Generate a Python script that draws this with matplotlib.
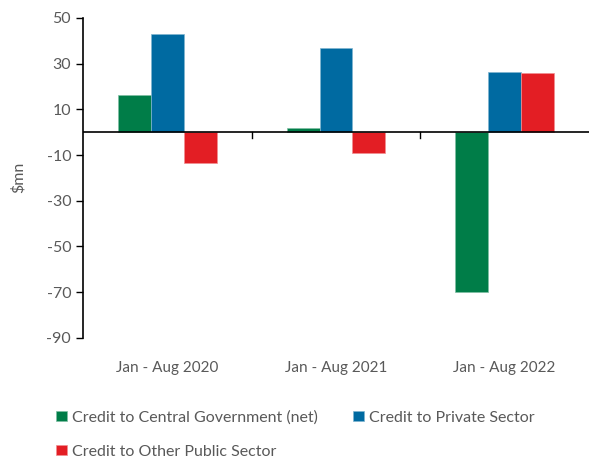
import matplotlib.pyplot as plt
import numpy as np

periods = ["Jan - Aug 2020", "Jan - Aug 2021", "Jan - Aug 2022"]
central_gov = [16.2, 2.0, -70.0]
private_sector = [42.9, 36.8, 26.5]
other_public = [-13.6, -9.3, 25.7]

plt.rcParams['font.family'] = ['Lato', 'DejaVu Sans']
plt.rcParams['axes.unicode_minus'] = False
grey = '#595959'

fig = plt.figure(figsize=(5.89, 4.59), dpi=100)
ax = fig.add_axes([0.141, 0.264, 0.859, 0.697])

x = np.arange(len(periods))
w = 0.195
b1 = ax.bar(x - w, central_gov, w, color='#007D48', edgecolor='#7fbfa3', linewidth=0.5,
            label='Credit to Central Government (net)')
b2 = ax.bar(x, private_sector, w, color='#006AA1', edgecolor='#7fb5d0', linewidth=0.5,
            label='Credit to Private Sector')
b3 = ax.bar(x + w, other_public, w, color='#E31E24', edgecolor='#f18f91', linewidth=0.5,
            label='Credit to Other Public Sector')

ax.set_xlim(-0.5, 2.5)
ax.set_ylim(-90, 50)
ax.set_yticks(range(-90, 51, 20))
ax.axhline(0, color='black', linewidth=1.2, zorder=3)
# category separators on the zero line
for xb in [0.5, 1.5]:
    ax.plot([xb, xb], [0, -2.6], color='black', linewidth=1, clip_on=False, zorder=3)

ax.set_xticks(x)
ax.set_xticklabels(periods)
ax.tick_params(axis='x', length=0, pad=17, labelsize=11, labelcolor=grey)
ax.tick_params(axis='y', length=5, width=1, labelsize=11.5, labelcolor=grey)

for s in ['top', 'right', 'bottom']:
    ax.spines[s].set_visible(False)
ax.spines['left'].set_linewidth(1.2)

ax.set_ylabel('$mn', color=grey, fontsize=11.5, labelpad=15)

leg = fig.legend(handles=[b1, b3, b2], loc='upper left', bbox_to_anchor=(0.085, 0.12),
                 ncol=2, frameon=False, fontsize=11.5, handlelength=0.65, handleheight=0.65,
                 handletextpad=0.3, columnspacing=2.25, labelspacing=1.25, borderaxespad=0)
for t in leg.get_texts():
    t.set_color(grey)

fig.savefig('out.png', dpi=100)
